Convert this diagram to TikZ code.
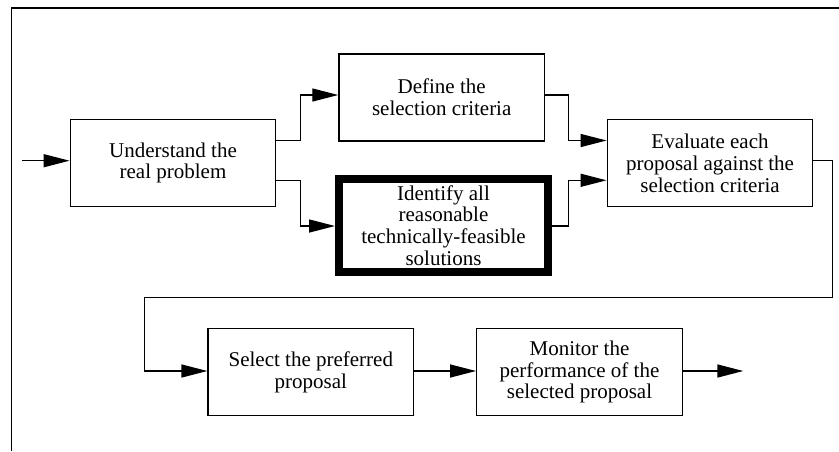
\documentclass[tikz,border=0pt]{standalone}
\usepackage{fontspec}
\setmainfont{Liberation Serif}
\usetikzlibrary{arrows.meta}
\tikzset{
  procbox/.style={draw, line width=1.4pt, inner sep=0pt, minimum width=205.5pt, minimum height=87pt, align=center, font=\fontsize{21}{21.7}\selectfont},
  heavybox/.style={procbox, line width=8pt, minimum width=209pt, minimum height=93pt},
  conn/.style={line width=1.4pt, -{Triangle[length=26pt,width=13pt]}},
  plain/.style={line width=1.4pt}
}
\begin{document}
\begin{tikzpicture}[x=1pt,y=-1pt]
\useasboundingbox (0,0) rectangle (839,451);
% frame
\coordinate (fa) at (11.3,451);
\coordinate (fb) at (11.3,8);
\coordinate (fc) at (839,8);
\draw[line width=1.3pt] (fa) -- (fb) -- (fc);

\node[procbox] (b1) at (173,162.8) {Understand the\\real problem};
\node[procbox] (b2) at (441.7,97.5) {Define the\\selection criteria};
\node[heavybox] (b3) at (443.5,225.5) {Identify all\\reasonable\\technically-feasible\\solutions};
\node[procbox] (b4) at (710,163.2) {Evaluate each\\proposal against the\\selection criteria};
\node[procbox] (b5) at (310.8,372) {Select the preferred\\proposal};
\node[procbox] (b6) at (579.5,372) {Monitor the\\performance of the\\selected proposal};

\coordinate (in) at (22,160.7);
\coordinate (out) at (743.3,371);

\draw[conn] (in) -- (b1.west |- in);
\draw[conn] (b1.east |- 0,140.5) -- (300.5,140.5) |- (b2.west |- 0,95);
\draw[conn] (b1.east |- 0,180.3) -- (300.5,180.3) |- (b3.west |- 0,226);
\draw[conn] (b2.east |- 0,95) -- (568.3,95) |- (b4.west |- 0,140.5);
\draw[conn] (b3.east |- 0,226) -- (568.3,226) |- (b4.west |- 0,180.3);
\draw[conn] (b4.east |- 0,160.5) -- (832.5,160.5) |- (144.3,297.7) |- (b5.west |- 0,371);
\draw[conn] (b5.east |- 0,371) -- (b6.west |- 0,371);
\draw[conn] (b6.east |- out) -- (out);
\end{tikzpicture}
\end{document}
